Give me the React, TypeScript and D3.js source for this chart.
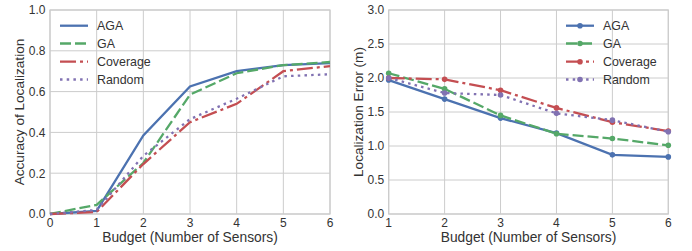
import React from "react";
import * as d3 from "d3";

const seriesNames = ["AGA", "GA", "Coverage", "Random"];
const colors = ["#4C72B0", "#55A868", "#C44E52", "#8172B2"];
const dashes = ["none", "11,4", "16,4,3,4", "2.5,4.2"];

const accX = [0, 1, 2, 3, 4, 5, 6];
const accAGA = [0, 0.015, 0.385, 0.625, 0.7, 0.73, 0.74];
const accGA = [0, 0.045, 0.25, 0.585, 0.69, 0.73, 0.745];
const accCov = [0, 0.01, 0.245, 0.45, 0.54, 0.7, 0.725];
const accRand = [0, 0.02, 0.285, 0.465, 0.565, 0.675, 0.685];

const errX = [1, 2, 3, 4, 5, 6];
const errAGA = [1.97, 1.69, 1.41, 1.19, 0.87, 0.84];
const errGA = [2.07, 1.84, 1.45, 1.18, 1.11, 1.01];
const errCov = [2.0, 1.98, 1.82, 1.56, 1.35, 1.22];
const errRand = [2.0, 1.78, 1.75, 1.48, 1.38, 1.21];

const accTicksY = [0, 0.2, 0.4, 0.6, 0.8, 1.0];
const errTicksY = [0, 0.5, 1.0, 1.5, 2.0, 2.5, 3.0];
const accTicksX = [0, 1, 2, 3, 4, 5, 6];
const errTicksX = [1, 2, 3, 4, 5, 6];

const FONT = "'Liberation Sans', Arial, sans-serif";
const TXT = "#333333";

function Panel(props: {
  left: number; right: number; top: number; bottom: number;
  xDomain: [number, number]; yDomain: [number, number];
  xTicks: number[]; yTicks: number[]; yFmt: (v: number) => string;
  xs: number[]; ys: number[][]; markers: boolean;
  ylabel: string; legendX: number;
}) {
  const { left, right, top, bottom } = props;
  const x = d3.scaleLinear().domain(props.xDomain).range([left, right]);
  const y = d3.scaleLinear().domain(props.yDomain).range([bottom, top]);
  const line = d3.line<number>().x((_, i) => x(props.xs[i])).y((d) => y(d));
  const legendRows = [25.7, 43.5, 61.7, 79.5];
  return (
    <g>
      {props.xTicks.map((t) => (
        <line key={"gx" + t} x1={x(t)} x2={x(t)} y1={top} y2={bottom} stroke="#cccccc" strokeWidth={1} />
      ))}
      {props.yTicks.map((t) => (
        <line key={"gy" + t} x1={left} x2={right} y1={y(t)} y2={y(t)} stroke="#cccccc" strokeWidth={1} />
      ))}
      <rect x={left} y={top} width={right - left} height={bottom - top} fill="none" stroke="#cccccc" strokeWidth={1.2} />
      {props.ys.map((s, k) => (
        <g key={"s" + k}>
          <path d={line(s) || ""} fill="none" stroke={colors[k]} strokeWidth={2.3} strokeDasharray={dashes[k]} />
          {props.markers && s.map((v, i) => (
            <circle key={i} cx={x(props.xs[i])} cy={y(v)} r={2.8} fill={colors[k]} />
          ))}
        </g>
      ))}
      {props.xTicks.map((t) => (
        <text key={"tx" + t} x={x(t)} y={bottom + 12.8} textAnchor="middle" fontSize={12} fill={TXT} fontFamily={FONT}>{t}</text>
      ))}
      {props.yTicks.map((t) => (
        <text key={"ty" + t} x={left - 4.5} y={y(t) + 4.3} textAnchor="end" fontSize={12} fill={TXT} fontFamily={FONT}>{props.yFmt(t)}</text>
      ))}
      <text x={(left + right) / 2} y={242} textAnchor="middle" fontSize={13.8} fill={TXT} fontFamily={FONT}>Budget (Number of Sensors)</text>
      <text transform={`translate(${left - 26},${(top + bottom) / 2}) rotate(-90)`} textAnchor="middle" fontSize={13.6} fill={TXT} fontFamily={FONT}>{props.ylabel}</text>
      {seriesNames.map((n, k) => (
        <g key={"l" + k}>
          <line x1={props.legendX} x2={props.legendX + 28} y1={legendRows[k]} y2={legendRows[k]} stroke={colors[k]} strokeWidth={2.3} strokeDasharray={dashes[k]} />
          {props.markers && <circle cx={props.legendX + 14} cy={legendRows[k]} r={2.8} fill={colors[k]} />}
          <text x={props.legendX + 37} y={legendRows[k] + 4.6} fontSize={12.4} fill={TXT} fontFamily={FONT}>{n}</text>
        </g>
      ))}
    </g>
  );
}

export default function App() {
  return (
    <svg width={692} height={251} style={{ display: "block", position: "absolute", left: 0, top: 0 }}>
      <rect width={692} height={251} fill="white" />
      <Panel left={50} right={330} top={10} bottom={214} xDomain={[0, 6]} yDomain={[0, 1]}
        xTicks={accTicksX} yTicks={accTicksY} yFmt={(v) => v.toFixed(1)}
        xs={accX} ys={[accAGA, accGA, accCov, accRand]} markers={false}
        ylabel="Accuracy of Localization" legendX={60} />
      <Panel left={388.7} right={668.3} top={10} bottom={214} xDomain={[1, 6]} yDomain={[0, 3]}
        xTicks={errTicksX} yTicks={errTicksY} yFmt={(v) => v.toFixed(1)}
        xs={errX} ys={[errAGA, errGA, errCov, errRand]} markers={true}
        ylabel="Localization Error (m)" legendX={566} />
    </svg>
  );
}
